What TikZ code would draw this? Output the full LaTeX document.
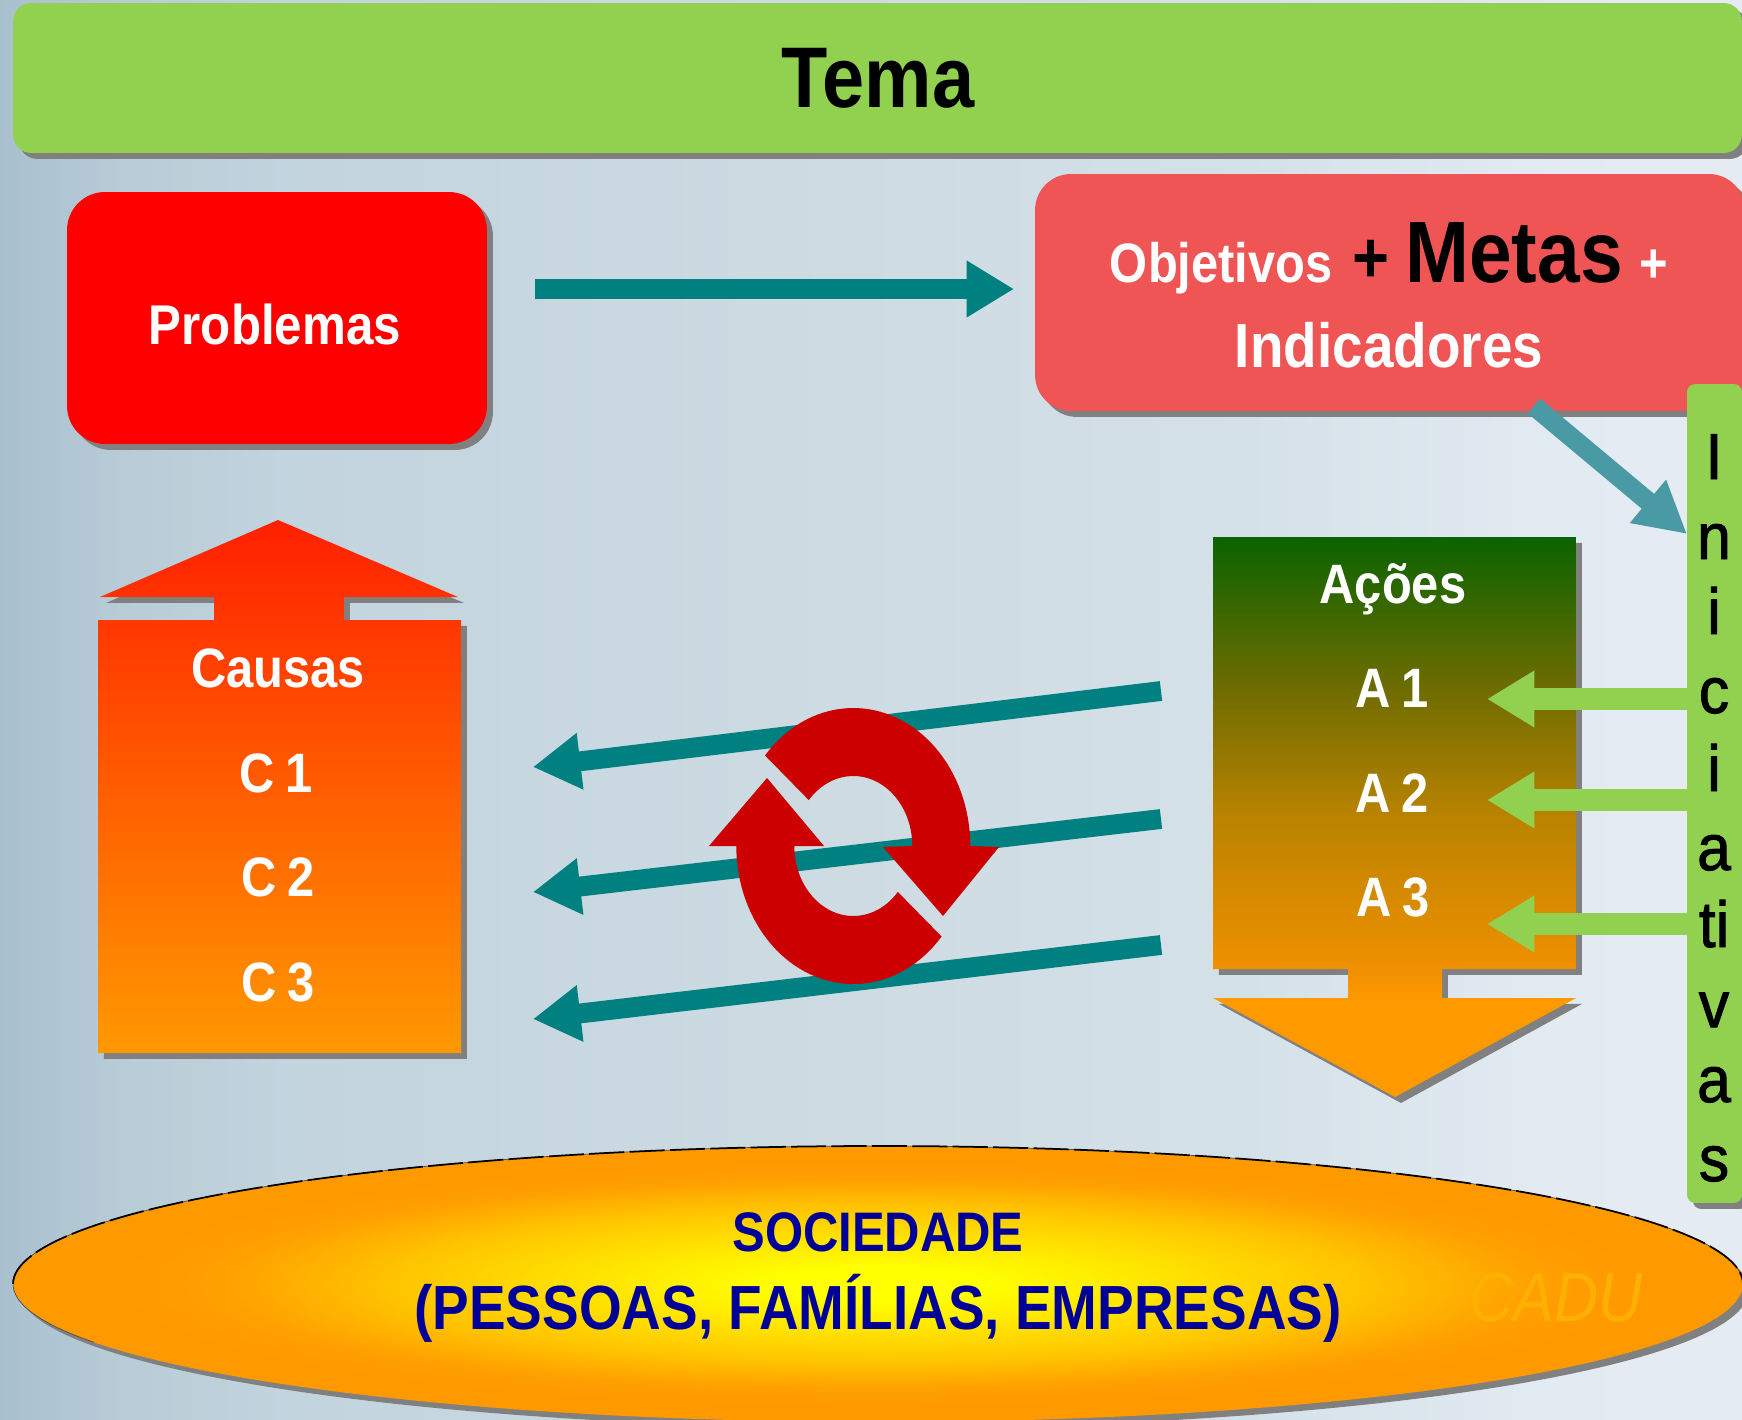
\documentclass[tikz,border=0pt]{standalone}
\usepackage{fontspec}
\setmainfont{Liberation Sans}[FakeStretch=0.88]
\newfontfamily\inifont{Liberation Sans}[FakeStretch=0.93,FakeBold=1.5]
\usetikzlibrary{arrows.meta,shapes.geometric,shadows,shadings}
\definecolor{tgreen}{HTML}{92D050}
\definecolor{tteal}{HTML}{008080}
\definecolor{tdiag}{HTML}{4A9AA5}
\definecolor{tsalmon}{HTML}{EF5555}
\definecolor{tcircle}{HTML}{CC0000}
\definecolor{tnavy}{HTML}{000099}
\definecolor{tcadu}{HTML}{FFB000}
\definecolor{torange}{HTML}{FF9900}
\definecolor{tcausa}{HTML}{FF2000}
\definecolor{tcausb}{HTML}{FF6000}
\definecolor{tshadow}{HTML}{808080}
\pgfdeclarehorizontalshading{bgshade}{100bp}{
 rgb(0bp)=(0.66,0.75,0.81);
 rgb(25bp)=(0.66,0.75,0.81);
 rgb(28.5bp)=(0.72,0.80,0.84);
 rgb(33bp)=(0.76,0.83,0.87);
 rgb(50bp)=(0.81,0.86,0.89);
 rgb(60bp)=(0.83,0.88,0.91);
 rgb(70bp)=(0.89,0.92,0.95);
 rgb(75bp)=(0.90,0.92,0.95);
 rgb(100bp)=(0.90,0.92,0.95)}
\pgfdeclareverticalshading{acoesshade}{100bp}{
 rgb(0bp)=(1,0.6,0);
 rgb(33.8bp)=(1,0.6,0);
 rgb(36.4bp)=(0.937,0.565,0);
 rgb(50bp)=(0.73,0.514,0);
 rgb(61.3bp)=(0.435,0.424,0);
 rgb(75bp)=(0.043,0.388,0);
 rgb(100bp)=(0.043,0.388,0)}
\pgfdeclareradialshading{socshade}{\pgfpoint{0bp}{0bp}}{
 rgb(0bp)=(1,1,0);
 rgb(3bp)=(1,1,0);
 rgb(7bp)=(1,0.92,0);
 rgb(14bp)=(1,0.77,0);
 rgb(19bp)=(1,0.627,0);
 rgb(22bp)=(1,0.6,0);
 rgb(50bp)=(1,0.6,0)}
\tikzset{
 x=0.02cm,y=-0.02cm,
 softshadow/.style={drop shadow={shadow xshift=3.4pt,shadow yshift=-3.4pt,opacity=1,fill=tshadow}},
 boxnode/.style={draw=none,inner sep=0pt,softshadow},
 wtext/.style={text=white,font=\bfseries\fontsize{31.6}{36}\selectfont,anchor=base},
 labeltext/.style={wtext,execute at begin node={\spaceskip=.2em\relax}},
 ntext/.style={text=tnavy,font=\bfseries\fontsize{35.5}{40}\selectfont,anchor=base},
 initext/.style={text=black,font=\inifont\fontsize{37}{40}\selectfont,anchor=base},
 tealarrow/.style={draw=tteal,line width=11.3pt,-{Triangle[length=27pt,width=30.5pt]}},
 greenarrow/.style={draw=tgreen,line width=12pt,-{Triangle[length=27pt,width=30.5pt]}},
 diagarrow/.style={draw=tdiag,line width=11pt,-{Triangle[length=29pt,width=30pt]}},
}
\begin{document}
\begin{tikzpicture}
\clip (0,0) rectangle (1742,1420);
\shade[shading=bgshade] (0,0) rectangle (1742,1420);

% top bar
\node[boxnode,fill=tgreen,rounded corners=0.36cm,minimum width=34.58cm,minimum height=3cm] (tema) at (877.5,78) {};
\node[text=black,font=\bfseries\fontsize{49}{52}\selectfont,anchor=base] (tematxt) at (878,107) {Tema};

% Problemas
\node[boxnode,fill=red,rounded corners=0.76cm,minimum width=8.4cm,minimum height=5.04cm] (prob) at (277,318) {};
\node[wtext,font=\bfseries\fontsize{31.9}{36}\selectfont] (probtxt) at (275,344) {Problemas};

% Objetivos
\node[boxnode,fill=tsalmon,rounded corners=0.72cm,minimum width=14.2cm,minimum height=4.74cm] (obj) at (1390,292.5) {};
\node[wtext] (objtxt) at (1389,282) {Objetivos\hspace{.36em}\textcolor{black}{\fontsize{41}{44}\selectfont +\hspace{.22em}\fontsize{49.6}{50}\selectfont Metas}\hspace{.3em}+};
\node[wtext,font=\bfseries\fontsize{35.5}{40}\selectfont] (indtxt) at (1389,367) {Indicadores};

% Causas
\shade[top color=tcausa,middle color=tcausb,bottom color=torange,softshadow]
 (278,520) -- (458,597) -- (344,597) -- (344,620) -- (461,620) -- (461,1053) -- (98,1053) -- (98,620) -- (214,620) -- (214,597) -- (100,597) -- cycle;
\node[wtext] (causas) at (278,687) {Causas};
\node[labeltext] (c1) at (276,792) {C 1};
\node[labeltext] (c2) at (278,896) {C 2};
\node[labeltext] (c3) at (278,1001) {C 3};

% Acoes
\shade[shading=acoesshade,softshadow]
 (1213,537) -- (1576,537) -- (1576,969) -- (1442,969) -- (1442,998) -- (1576,998) -- (1395,1097) -- (1213,998) -- (1348,998) -- (1348,969) -- (1213,969) -- cycle;
\node[wtext] (acoes) at (1393,603) {Ações};
\node[labeltext] (a1) at (1392,707) {A 1};
\node[labeltext] (a2) at (1392,812) {A 2};
\node[labeltext] (a3) at (1393,916) {A 3};

% Iniciativas bar
\node[boxnode,fill=tgreen,rounded corners=0.16cm,minimum width=1.1cm,minimum height=16.38cm] (ini) at (1714.5,793.5) {};
\foreach \l/\y [count=\i] in {I/479,n/559,i/634,c/713,i/791,a/870,ti/947,v/1027,a/1102,s/1181}
 \node[initext] (ini\i) at (1714,\y) {\l};

% ellipse
\node[ellipse,inner sep=0pt,minimum width=34.6cm,minimum height=5.52cm,shading=socshade,softshadow] (soc) at (878,1284) {};
\draw[black!70,line width=0.4pt] plot[domain=155:360,samples=120] ({878+865*cos(\x)},{1284+138*sin(\x)});
\draw[black,line width=1pt,dash pattern=on 20pt off 3pt] plot[domain=180:360,samples=120] ({878+865*cos(\x)},{1284+138*sin(\x)});
\node[ntext,font=\bfseries\fontsize{31.7}{36}\selectfont] (soctxt1) at (878,1251) {SOCIEDADE};
\node[ntext] (soctxt2) at (878,1329) {(PESSOAS, FAMÍLIAS, EMPRESAS)};
\node[text=tcadu,font=\itshape\fontsize{39.5}{42}\selectfont,anchor=base] (cadu) at (1556,1321) {CADU};

% connector end points
\coordinate (p1) at (535,289);
\coordinate (p2) at (1014,289);
\coordinate (d1) at (1534,406);
\coordinate (d2) at (1687,534);
\coordinate (l1a) at (1161,691);
\coordinate (l1b) at (533,767);
\coordinate (l2a) at (1161,819);
\coordinate (l2b) at (533,892);
\coordinate (l3a) at (1161,945);
\coordinate (l3b) at (533,1019);
\coordinate (g1a) at (1687,699);
\coordinate (g1b) at (1487,699);
\coordinate (g2a) at (1687,800);
\coordinate (g2b) at (1487,800);
\coordinate (g3a) at (1687,924);
\coordinate (g3b) at (1487,924);

\draw[tealarrow] (p1) -- (p2);
\draw[diagarrow] (d1) -- (d2);
\draw[tealarrow] (l1a) -- (l1b);
\draw[tealarrow] (l2a) -- (l2b);
\draw[tealarrow] (l3a) -- (l3b);
\draw[greenarrow] (g1a) -- (g1b);
\draw[greenarrow] (g2a) -- (g2b);
\draw[greenarrow] (g3a) -- (g3b);

% circular arrows
\fill[tcircle] plot[domain=-139:0,samples=50] ({853.3+117*cos(\x)},{846+138*sin(\x)})
 -- (999,847) -- (943,916) -- (883,847)
 -- plot[domain=0:-139,samples=50] ({853.3+59*cos(\x)},{846+70*sin(\x)}) -- cycle;
\fill[tcircle] plot[domain=41:180,samples=50] ({853.3+117*cos(\x)},{846+138*sin(\x)})
 -- (709,846) -- (767,778) -- (824,846)
 -- plot[domain=180:41,samples=50] ({853.3+59*cos(\x)},{846+70*sin(\x)}) -- cycle;
\end{tikzpicture}
\end{document}
